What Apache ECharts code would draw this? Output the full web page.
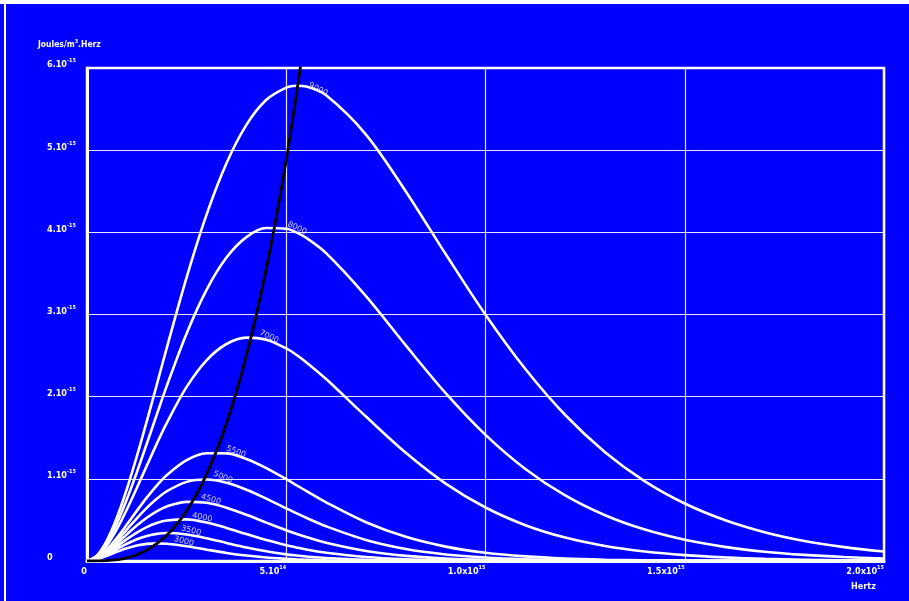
<!DOCTYPE html>
<html>
<head>
<meta charset="utf-8">
<script src="https://cdn.jsdelivr.net/npm/echarts@6/dist/echarts.min.js"></script>
<style>
html,body{margin:0;padding:0;background:#fff;}
#c{width:909px;height:601px;}
</style>
</head>
<body>
<div id="c"></div>
<script>
// Frequency samples, in units of 10^14 Hz
const freq = [0,0.25,0.5,0.75,1,1.25,1.5,1.75,2,2.5,3,3.5,4,4.5,5,5.25,5.5,6,7,8,9,10,11,12,13,14,15,16,17,18,19,20];
// Spectral energy density, in units of 10^-15 J/m^3/Hz
const temps = ['9000','8000','7000','5500','5000','4500','4000','3500','3000'];
const T9000 = [0,0.068,0.252,0.529,0.876,1.272,1.700,2.144,2.591,3.452,4.216,4.841,5.308,5.613,5.762,5.784,5.775,5.667,5.190,4.498,3.736,2.997,2.336,1.777,1.325,0.970,0.700,0.499,0.351,0.244,0.169,0.115];
const T8000 = [0,0.060,0.220,0.458,0.751,1.079,1.427,1.781,2.128,2.770,3.300,3.693,3.942,4.053,4.044,4.000,3.934,3.747,3.224,2.624,2.043,1.535,1.120,0.798,0.557,0.382,0.258,0.172,0.113,0.074,0.048,0.030];
const T7000 = [0,0.052,0.189,0.387,0.627,0.889,1.159,1.426,1.679,2.119,2.443,2.641,2.719,2.694,2.587,2.510,2.420,2.215,1.758,1.317,0.942,0.651,0.436,0.285,0.183,0.115,0.071,0.044,0.026,0.016,0.009,0.005];
const T5500 = [0,0.040,0.141,0.282,0.443,0.610,0.771,0.918,1.044,1.227,1.311,1.310,1.242,1.131,0.995,0.924,0.853,0.714,0.472,0.294,0.175,0.100,0.056,0.030,0.016,0.008,0.004,0.002,0.001,0.001,0,0];
const T5000 = [0,0.036,0.125,0.247,0.383,0.520,0.647,0.758,0.848,0.963,0.991,0.953,0.868,0.759,0.641,0.582,0.526,0.422,0.256,0.146,0.080,0.042,0.021,0.011,0.005,0.002,0.001,0.001,0,0,0,0];
const T4500 = [0,0.032,0.109,0.213,0.324,0.432,0.527,0.605,0.664,0.720,0.708,0.649,0.562,0.467,0.375,0.332,0.292,0.222,0.121,0.062,0.031,0.014,0.007,0.003,0.001,0.001,0,0,0,0,0,0];
const T4000 = [0,0.028,0.094,0.178,0.266,0.346,0.413,0.462,0.493,0.506,0.468,0.403,0.328,0.255,0.192,0.165,0.140,0.100,0.048,0.021,0.009,0.004,0.002,0.001,0,0,0,0,0,0,0,0];
const T3500 = [0,0.024,0.078,0.145,0.210,0.265,0.305,0.330,0.340,0.323,0.277,0.220,0.165,0.118,0.081,0.067,0.055,0.036,0.014,0.005,0.002,0.001,0,0,0,0,0,0,0,0,0,0];
const T3000 = [0,0.020,0.063,0.112,0.156,0.189,0.208,0.214,0.210,0.180,0.138,0.098,0.066,0.042,0.026,0.020,0.016,0.009,0.003,0.001,0,0,0,0,0,0,0,0,0,0,0,0];
const curves = [T9000,T8000,T7000,T5500,T5000,T4500,T4000,T3500,T3000];

// Black curve through the peaks (locus of maxima)
const peakFreq  = [0,0.5,1,1.5,2,2.5,3,3.5,4,4.5,5,5.5];
const peakValue = [0,0.005,0.039,0.132,0.312,0.610,1.054,1.674,2.499,3.558,4.881,6.497];

// Temperature labels along the curves (data coordinates) and their tilt
const labelFreq  = [5.80,5.27,4.57,3.74,3.41,3.11,2.89,2.61,2.43];
const labelValue = [5.74,4.05,2.73,1.33,1.02,0.75,0.53,0.37,0.24];
const labelTilt  = [-27,-26,-25,-20,-22,-17,-13,-15,-15];

// Tick labels
const xTickMain = ['0','5.10','1.0x10','1.5x10','2.0x10'];
const xTickExp  = ['','14','15','15','15'];
const yTickMain = ['0','1.10','2.10','3.10','4.10','5.10','6.10'];
const yTickExp  = ['','-15','-15','-15','-15','-15','-15'];

const FONT = "'DejaVu Sans Condensed','Liberation Sans Narrow','DejaVu Sans',sans-serif";
const rich = {
  b: {fontFamily: FONT, fontSize: 9, fontWeight: 'bold', color: '#fff', lineHeight: 14},
  s: {fontFamily: FONT, fontSize: 5.5, fontWeight: 'bold', color: '#fff', verticalAlign: 'top', lineHeight: 9}
};

const chart = echarts.init(document.getElementById('c'), null, {renderer: 'canvas'});

const series = curves.map((d, i) => ({
  type: 'line',
  name: temps[i],
  data: freq.map((f, j) => [f, d[j]]),
  showSymbol: false,
  smooth: 0.33,
  lineStyle: {color: '#fff', width: 2.6},
  z: 3,
  silent: true
}));

series.push({
  type: 'line',
  name: 'peak',
  data: peakFreq.map((f, j) => [f, peakValue[j]]),
  showSymbol: false,
  smooth: 0.33,
  clip: true,
  lineStyle: {color: '#000', width: 2.8},
  z: 5,
  silent: true
});

labelFreq.forEach((f, i) => {
  series.push({
    type: 'scatter',
    data: [[f, labelValue[i]]],
    symbolSize: 0,
    z: 6,
    silent: true,
    label: {
      show: true,
      position: 'inside',
      formatter: temps[i],
      rotate: labelTilt[i],
      color: '#fff',
      fontFamily: "'DejaVu Sans','Noto Sans',sans-serif",
      fontSize: 8
    }
  });
});

chart.setOption({
  animation: false,
  backgroundColor: '#0000ff',
  grid: {
    left: 87, right: 25, top: 68, bottom: 40,
    show: true, borderColor: '#fff', borderWidth: 2.5, backgroundColor: 'transparent'
  },
  xAxis: {
    type: 'value', min: 0, max: 20, interval: 5,
    axisLine: {show: true, lineStyle: {color: '#fff', width: 3}},
    axisTick: {show: false},
    splitLine: {show: true, lineStyle: {color: 'rgba(255,255,255,0.9)', width: 1.2}},
    axisLabel: {
      margin: 4,
      align: 'right',
      rich: rich,
      formatter: (v) => {
        const i = Math.round(v / 5);
        return xTickExp[i] ? '{b|' + xTickMain[i] + '}{s|' + xTickExp[i] + '}' : '{b|' + xTickMain[i] + '}';
      }
    }
  },
  yAxis: {
    type: 'value', min: 0, max: 6, interval: 1,
    axisLine: {show: true, lineStyle: {color: '#fff', width: 3}},
    axisTick: {show: false},
    splitLine: {show: true, lineStyle: {color: 'rgba(255,255,255,0.9)', width: 1.2}},
    axisLabel: {
      margin: 40,
      align: 'left',
      padding: [0, 0, 6, 0],
      rich: rich,
      formatter: (v) => {
        const i = Math.round(v);
        return yTickExp[i] ? '{b|' + yTickMain[i] + '}{s|' + yTickExp[i] + '}' : '{b|' + yTickMain[i] + '}';
      }
    }
  },
  graphic: [
    {type: 'rect', left: 0, top: 0, shape: {width: 909, height: 4}, style: {fill: '#fff'}, z: 10},
    {type: 'rect', left: 4, top: 4, shape: {width: 2, height: 597}, style: {fill: '#fff'}, z: 10},
    {type: 'text', left: 38, top: 39, z: 10, style: {
      text: '{b|Joules/m}{s|3}{b|.Herz}', rich: {
        b: {fontFamily: FONT, fontSize: 8.5, fontWeight: 'bold', fill: '#fff', lineHeight: 12},
        s: {fontFamily: FONT, fontSize: 5.5, fontWeight: 'bold', fill: '#fff', verticalAlign: 'top', lineHeight: 8}
      }}},
    {type: 'text', left: 851, top: 582, z: 10, style: {
      text: 'Hertz', fill: '#fff', font: "bold 9px 'DejaVu Sans Condensed','Liberation Sans Narrow',sans-serif"}}
  ],
  series: series
});
</script>
</body>
</html>
